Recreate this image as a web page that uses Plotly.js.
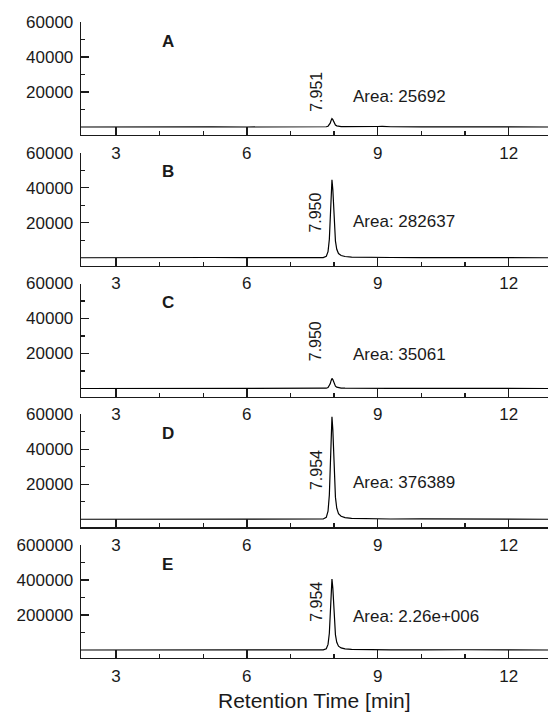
<!DOCTYPE html>
<html>
<head>
<meta charset="utf-8">
<script src="https://cdn.plot.ly/plotly-3.0.1.min.js"></script>
<style>html,body{margin:0;padding:0;background:#fff;}#chart{width:548px;height:717px;}</style>
</head>
<body>
<div id="chart"></div>
<script>
// Retention time samples (min)
const times = [2.2, 2.8, 3.5, 4.0, 4.3, 4.6, 5.2, 6.0, 6.8, 7.5, 7.75, 7.82, 7.86, 7.89, 7.91, 7.93, 7.95, 7.97, 7.99, 8.01, 8.03, 8.06, 8.10, 8.16, 8.25, 8.40, 8.70, 9.00, 9.10, 9.30, 10.0, 10.6, 10.8, 11.0, 12.0, 12.9];
// Detector signal per sample
const signalA = [0, 50, 100, 150, 400, 150, 50, 0, 0, 50, 60, 150, 450, 1200, 2200, 3700, 4800, 4200, 3000, 1900, 1150, 650, 380, 250, 170, 120, 100, 300, 400, 150, 100, 150, 350, 150, 50, 0];
const signalB = [0, 100, 250, 250, 200, 250, 150, 50, 0, 50, 100, 800, 3500, 10500, 20000, 34000, 44600, 39000, 27000, 16500, 9500, 4800, 2400, 1300, 700, 350, 200, 350, 300, 150, 100, 100, 100, 100, 50, 0];
const signalC = [0, 30, 60, 80, 100, 60, 30, 0, 0, 50, 60, 160, 520, 1450, 2650, 4450, 5800, 5100, 3600, 2250, 1350, 750, 430, 270, 180, 120, 100, 130, 120, 80, 100, 80, 120, 150, 50, 0];
const signalD = [0, 50, 80, 100, 100, 100, 80, 50, 0, 60, 150, 1100, 4600, 13800, 26200, 44600, 58500, 51200, 35400, 21700, 12500, 6300, 3150, 1700, 900, 450, 250, 200, 180, 150, 250, 150, 120, 100, 50, 0];
const signalE = [0, 300, 500, 600, 600, 600, 400, 200, 0, 300, 700, 7300, 31800, 95400, 181600, 308800, 405000, 354000, 245000, 150000, 86500, 43600, 21800, 11800, 6300, 3100, 1500, 1200, 1000, 900, 1200, 3000, 2500, 1500, 500, 0];

const panelLetters = ['A', 'B', 'C', 'D', 'E'];
const peakTimes = ['7.951', '7.950', '7.950', '7.954', '7.954'];
const areaLabels = ['Area: 25692', 'Area: 282637', 'Area: 35061', 'Area: 376389', 'Area: 2.26e+006'];
const yMax = [60000, 60000, 60000, 60000, 600000];
const yTickVals = [[20000, 40000, 60000], [20000, 40000, 60000], [20000, 40000, 60000], [20000, 40000, 60000], [200000, 400000, 600000]];
const yTickText = [['20000', '40000', '60000'], ['20000', '40000', '60000'], ['20000', '40000', '60000'], ['20000', '40000', '60000'], ['200000', '400000', '600000']];
const yMinorVals = [[10000, 30000, 50000], [10000, 30000, 50000], [10000, 30000, 50000], [10000, 30000, 50000], [100000, 300000, 500000]];
const xTickVals = [3, 6, 9, 12];
const xMinorVals = [4, 5, 7, 8, 10, 11];
// label positions as fraction of panel full scale
const peakLabelFrac = [0.333, 0.428, 0.448, 0.467, 0.457];
const areaLabelFrac = [0.295, 0.343, 0.324, 0.352, 0.323];
const signals = [signalA, signalB, signalC, signalD, signalE];

const W = 548, H = 717;
const mt = 22, mb = 59, ml = 81, mr = 0;
const plotH = H - mt - mb;
const panelSpacing = 130.75, panelH = 113;

const font = {family: 'Liberation Sans, Arial, Helvetica, sans-serif', color: '#1a1a1a'};
const layout = {
  width: W, height: H,
  margin: {t: mt, b: mb, l: ml, r: mr, pad: 0},
  paper_bgcolor: '#fff', plot_bgcolor: '#fff',
  showlegend: false,
  font: Object.assign({size: 17}, font),
  annotations: []
};
const data = [];
for (let k = 0; k < 5; k++) {
  const sfx = k === 0 ? '' : String(k + 1);
  const topPx = k * panelSpacing;
  const d1 = 1 - topPx / plotH;
  const d0 = 1 - (topPx + panelH) / plotH;
  const lo = -yMax[k] * 8 / 105;
  data.push({
    x: times, y: signals[k], type: 'scatter', mode: 'lines',
    line: {color: '#000', width: 1.2},
    xaxis: 'x' + sfx, yaxis: 'y' + sfx, hoverinfo: 'skip'
  });
  layout['xaxis' + sfx] = {
    domain: [0, 1], anchor: 'y' + sfx, range: [2.2, 12.9],
    showline: true, linecolor: '#1a1a1a', linewidth: 1.3, mirror: false,
    showgrid: false, zeroline: false,
    ticks: 'inside', ticklen: 8, tickwidth: 1.3, tickcolor: '#1a1a1a',
    tickmode: 'array', tickvals: xTickVals, ticktext: xTickVals.map(String),
    minor: {tickmode: 'array', tickvals: xMinorVals, ticks: 'inside', ticklen: 4, tickwidth: 1.3, tickcolor: '#1a1a1a', showgrid: false},
    tickfont: Object.assign({size: 17}, font),
    ticklabelstandoff: 2,
    fixedrange: true
  };
  layout['yaxis' + sfx] = {
    domain: [d0, d1], anchor: 'x' + sfx, range: [lo, yMax[k]],
    showline: true, linecolor: '#1a1a1a', linewidth: 1.3,
    showgrid: false, zeroline: false,
    ticks: 'inside', ticklen: 8, tickwidth: 1.3, tickcolor: '#1a1a1a',
    tickmode: 'array', tickvals: yTickVals[k], ticktext: yTickText[k],
    minor: {tickmode: 'array', tickvals: yMinorVals[k], ticks: 'inside', ticklen: 4, tickwidth: 1.3, tickcolor: '#1a1a1a', showgrid: false},
    tickfont: Object.assign({size: 17}, font),
    ticklabelstandoff: 3,
    fixedrange: true
  };
  layout.annotations.push({
    xref: 'x' + sfx, yref: 'y' + sfx, x: 4.19, y: yMax[k] * 0.817,
    text: '<b>' + panelLetters[k] + '</b>', showarrow: false,
    xanchor: 'center', yanchor: 'middle', font: Object.assign({size: 17}, font)
  });
  layout.annotations.push({
    xref: 'x' + sfx, yref: 'y' + sfx, x: 7.58, y: yMax[k] * peakLabelFrac[k],
    text: peakTimes[k], textangle: -90, showarrow: false,
    xanchor: 'center', yanchor: 'middle', font: Object.assign({size: 16}, font)
  });
  layout.annotations.push({
    xref: 'x' + sfx, yref: 'y' + sfx, x: 8.39, y: yMax[k] * areaLabelFrac[k],
    text: areaLabels[k], showarrow: false,
    xanchor: 'left', yanchor: 'middle', font: Object.assign({size: 17}, font)
  });
}
layout.annotations.push({
  xref: 'paper', yref: 'paper', x: 0.5, y: -(700 - (H - mb)) / plotH,
  text: 'Retention Time [min]', showarrow: false,
  xanchor: 'center', yanchor: 'middle', font: Object.assign({size: 21}, font)
});
Plotly.newPlot('chart', data, layout, {staticPlot: true, displayModeBar: false});
</script>
</body>
</html>
